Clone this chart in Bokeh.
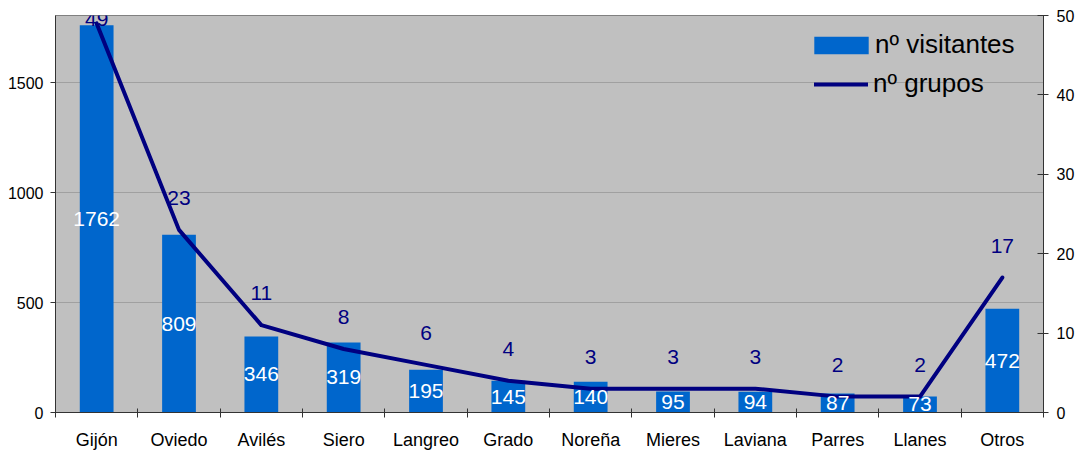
from bokeh.plotting import figure
from bokeh.models import ColumnDataSource, Range1d, LinearAxis, FixedTicker, Legend, LegendItem
from bokeh.core.properties import value
from bokeh.embed import file_html
from bokeh.resources import INLINE

categories = ["Gijón", "Oviedo", "Avilés", "Siero", "Langreo", "Grado",
              "Noreña", "Mieres", "Laviana", "Parres", "Llanes", "Otros"]
visitantes = [1762, 809, 346, 319, 195, 145, 140, 95, 94, 87, 73, 472]
grupos = [49, 23, 11, 8, 6, 4, 3, 3, 3, 2, 2, 17]
left_ticks = [0, 500, 1000, 1500]
right_ticks = [0, 10, 20, 30, 40, 50]
LEFT_MAX = 1806
RIGHT_MAX = 50

FONT = "Liberation Sans"
BAR = "#0066CC"
LINE = "#000080"
AXIS = "#333333"

W, H = 1077, 452
BL, BR, BT, BB = 55, 32, 15, 39
frame_h = H - BT - BB
ppu_right = frame_h / RIGHT_MAX

n = len(categories)
xs = list(range(n))
src = ColumnDataSource(dict(
    x=xs,
    v=visitantes,
    vmid=[v / 2 for v in visitantes],
    vtxt=[str(v) for v in visitantes],
    g=grupos,
    gtxt=[str(g) for g in grupos],
    goff=[-min(32, (RIGHT_MAX - g) * ppu_right - 3.5) for g in grupos],
))

p = figure(width=W, height=H, output_backend="svg", toolbar_location=None,
           x_range=Range1d(-0.5, n - 0.5), y_range=Range1d(0, LEFT_MAX),
           min_border_left=BL, min_border_right=BR, min_border_top=BT, min_border_bottom=BB)
p.extra_y_ranges = {"right": Range1d(0, RIGHT_MAX)}

p.background_fill_color = "#C0C0C0"
p.border_fill_color = "white"
p.outline_line_color = "#808080"
p.outline_line_width = 1

# x axis
xax = p.xaxis[0]
xax.ticker = FixedTicker(ticks=xs, minor_ticks=[i + 0.5 for i in range(-1, n)])
xax.major_label_overrides = {i: c for i, c in enumerate(categories)}
xax.major_tick_line_color = None
xax.major_tick_in = 0
xax.major_tick_out = 0
xax.minor_tick_in = 4
xax.minor_tick_out = 5
xax.minor_tick_line_color = AXIS
xax.axis_line_color = AXIS
xax.major_label_standoff = 12
xax.major_label_text_font = FONT
xax.major_label_text_font_size = "18px"
xax.major_label_text_color = "black"

# left axis
yax = p.yaxis[0]
yax.ticker = FixedTicker(ticks=left_ticks)
yax.minor_tick_line_color = None
yax.major_tick_in = 0
yax.major_tick_out = 5
yax.major_tick_line_color = AXIS
yax.axis_line_color = AXIS
yax.major_label_standoff = 7
yax.major_label_text_font = FONT
yax.major_label_text_font_size = "16px"
yax.major_label_text_color = "black"

# right axis
rax = LinearAxis(y_range_name="right", ticker=FixedTicker(ticks=right_ticks))
rax.minor_tick_line_color = None
rax.major_tick_in = 6
rax.major_tick_out = 5
rax.major_tick_line_color = AXIS
rax.axis_line_color = AXIS
rax.major_label_standoff = 8
rax.major_label_text_font = FONT
rax.major_label_text_font_size = "16px"
rax.major_label_text_color = "black"
p.add_layout(rax, "right")

p.xgrid.visible = False
p.ygrid.ticker = FixedTicker(ticks=left_ticks)
p.ygrid.grid_line_color = "#A0A0A0"
p.ygrid.grid_line_width = 1

bars = p.vbar(x="x", top="v", width=0.41, source=src, fill_color=BAR, line_color=None)
line = p.line(x="x", y="g", source=src, y_range_name="right", line_color=LINE,
              line_width=4, line_cap="round", line_join="round")

p.text(x="x", y="vmid", text="vtxt", source=src, text_color="white",
       text_font=value(FONT), text_font_size="21px", text_align="center", text_baseline="middle")
p.text(x="x", y="g", text="gtxt", source=src, y_range_name="right", y_offset="goff",
       text_color=LINE, text_font=value(FONT), text_font_size="21px",
       text_align="center", text_baseline="middle")


def make_legend(item, loc, gw, gh, standoff):
    lg = Legend(items=[item], location=loc, orientation="vertical")
    lg.background_fill_alpha = 0
    lg.border_line_alpha = 0
    lg.padding = 0
    lg.margin = 0
    lg.spacing = 0
    lg.glyph_width = gw
    lg.glyph_height = gh
    lg.label_height = 18
    lg.label_standoff = standoff
    lg.label_text_font = FONT
    lg.label_text_font_size = "26px"
    lg.label_text_color = "black"
    return lg


# area legend glyphs are inset by 10% per side, so enlarge the glyph box
p.add_layout(make_legend(LegendItem(label="nº visitantes", renderers=[bars]),
                         (752, 352), 68, 22, -2), "center")
p.add_layout(make_legend(LegendItem(label="nº grupos", renderers=[line]),
                         (759, 313), 54, 18, 5), "center")

open("out.html", "w").write(file_html(p, INLINE))
